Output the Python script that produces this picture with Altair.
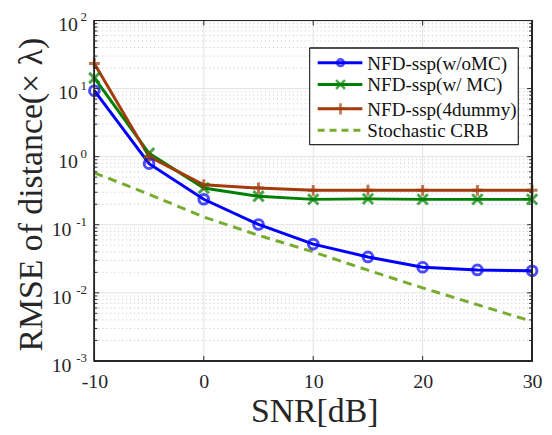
import altair as alt
import pandas as pd

snr = [-10, -5, 0, 5, 10, 15, 20, 25, 30]
names = ["NFD-ssp(w/oMC)", "NFD-ssp(w/ MC)", "NFD-ssp(4dummy)", "Stochastic CRB"]
rmse_wo_mc = [9.3, 0.79, 0.237, 0.101, 0.052, 0.0337, 0.0238, 0.0217, 0.0211]
rmse_w_mc = [14.3, 1.12, 0.346, 0.262, 0.236, 0.240, 0.236, 0.236, 0.236]
rmse_4dummy = [23.3, 1.0, 0.387, 0.346, 0.32, 0.322, 0.32, 0.32, 0.32]
crb = [0.58, 0.28, 0.13, 0.070, 0.040, 0.0215, 0.0118, 0.0067, 0.0038]
colors = ["#0000ff", "#008000", "#a33b0c", "#77ac30"]

decades = [1e-3, 1e-2, 1e-1, 1e0, 1e1, 1e2]
exponents = ["-3", "-2", "-1", "0", "1", "2"]
minor = [m * d for d in decades[:-1] for m in range(2, 10)]
x_major = [-10, 0, 10, 20, 30]

FONT = "Liberation Serif"
W, H = 441, 343
TXT = "#262626"

rows = []
for name, vals in zip(names, [rmse_wo_mc, rmse_w_mc, rmse_4dummy, crb]):
    for s, v in zip(snr, vals):
        rows.append({"series": name, "snr": s, "rmse": v})
df = pd.DataFrame(rows)
df_markers = df[df.series != names[3]]
df_solid = df[df.series != names[3]]
df_crb = df[df.series == names[3]]

xs = alt.Scale(domain=[-10, 30], nice=False, zero=False)
ys = alt.Scale(type="log", domain=[1e-3, 1e2], nice=False)

xaxis = alt.Axis(
    values=x_major, title="SNR[dB]", grid=False, ticks=False, tickSize=0,
    domain=False, labelFont=FONT, labelFontSize=20, labelColor=TXT,
    labelExpr="datum.value < 0 ? '-' + abs(datum.value) : '' + datum.value",
    labelPadding=11, titleFont=FONT, titleFontSize=34, titleFontWeight="normal",
    titleColor=TXT, titleX=W / 2 + 1, titleY=61, titleBaseline="alphabetic",
    titleAlign="center", labelFlush=False)
yaxis = alt.Axis(
    values=decades, labels=False, title="RMSE of distance(\u00d7 \u03bb)",
    grid=False, ticks=False, tickSize=0, domain=False,
    titleFont=FONT, titleFontSize=34, titleFontWeight="normal",
    titleColor=TXT, titleX=-53, titleY=175, titleAngle=-90,
    titleBaseline="alphabetic", titleAlign="center")


def X(f):
    return alt.X(f, scale=xs, axis=xaxis)


def Y(f):
    return alt.Y(f, scale=ys, axis=yaxis)


df_dec = pd.DataFrame({"v": decades, "e": exponents, "b": ["10"] * len(decades)})
df_dec_neg = df_dec[df_dec.v < 1]
df_dec_pos = df_dec[df_dec.v >= 1]
df_min = pd.DataFrame({"v": minor})
df_xm = pd.DataFrame({"x": x_major})

base = alt.Chart(df_crb).mark_point(opacity=0).encode(x=X("snr:Q"), y=Y("rmse:Q"))

grid_major_y = alt.Chart(df_dec).mark_rule(color="#e3e3e3", strokeWidth=1).encode(y=Y("v:Q"))
grid_minor_y = alt.Chart(df_min).mark_rule(color="#c8c8c8", strokeWidth=1, strokeDash=[1, 3]).encode(y=Y("v:Q"))
grid_major_x = alt.Chart(df_xm).mark_rule(color="#e3e3e3", strokeWidth=1).encode(x=X("x:Q"))

# y tick labels: "10" with superscript exponent
ylabels = [
    alt.Chart(df_dec_neg).mark_text(align="right", baseline="middle", font=FONT, fontSize=20,
                                    color=TXT, dy=5).encode(y=Y("v:Q"), x=alt.value(-23), text="b:N"),
    alt.Chart(df_dec_pos).mark_text(align="right", baseline="middle", font=FONT, fontSize=20,
                                    color=TXT, dy=5).encode(y=Y("v:Q"), x=alt.value(-16.5), text="b:N"),
    alt.Chart(df_dec).mark_text(align="right", baseline="middle", font=FONT, fontSize=13,
                                color=TXT, dy=-3).encode(y=Y("v:Q"), x=alt.value(-7.5), text="e:N"),
]

tick_col = "#262626"
ticks_layers = [
    alt.Chart(df_dec).mark_rule(color=tick_col).encode(y=Y("v:Q"), x=alt.value(0), x2=alt.value(5)),
    alt.Chart(df_dec).mark_rule(color=tick_col).encode(y=Y("v:Q"), x=alt.value(W - 5), x2=alt.value(W)),
    alt.Chart(df_min).mark_rule(color=tick_col).encode(y=Y("v:Q"), x=alt.value(0), x2=alt.value(3)),
    alt.Chart(df_min).mark_rule(color=tick_col).encode(y=Y("v:Q"), x=alt.value(W - 3), x2=alt.value(W)),
    alt.Chart(df_xm).mark_rule(color=tick_col).encode(x=X("x:Q"), y=alt.value(H - 5), y2=alt.value(H)),
    alt.Chart(df_xm).mark_rule(color=tick_col).encode(x=X("x:Q"), y=alt.value(0), y2=alt.value(5)),
]
box = alt.Chart(df_dec).mark_rect(fillOpacity=0, stroke="#262626", strokeWidth=1.2).encode(
    x=alt.value(0), x2=alt.value(W), y=alt.value(0), y2=alt.value(H))

color_scale = alt.Scale(domain=names, range=colors)
xpath = "M-1,-1L1,1M-1,1L1,-1"
ppath = "M-1,0L1,0M0,-1L0,1"
shape_scale = alt.Scale(domain=names[:3], range=["circle", xpath, ppath])

lines = alt.Chart(df_solid).mark_line(strokeWidth=3).encode(
    x=X("snr:Q"), y=Y("rmse:Q"),
    color=alt.Color("series:N", scale=color_scale, legend=None),
    detail="series:N",
)
crb_line = alt.Chart(df_crb).mark_line(strokeWidth=3, strokeDash=[9, 6]).encode(
    x=X("snr:Q"), y=Y("rmse:Q"),
    color=alt.Color("series:N", scale=color_scale, legend=None),
)
markers = alt.Chart(df_markers).mark_point(filled=False, strokeWidth=3).encode(
    x=X("snr:Q"), y=Y("rmse:Q"),
    color=alt.Color("series:N", scale=color_scale, legend=None),
    shape=alt.Shape("series:N", scale=shape_scale, legend=None),
    size=alt.Size("series:N", scale=alt.Scale(domain=names[:3], range=[95, 120, 160]), legend=None),
)

# manual legend (layout in pixels)
lx0, ly0, lx1, ly1 = 217, 28, 427, 125
row_y = [42.5, 64.5, 89, 110.5]
leg = [alt.Chart(df_dec).mark_rect(fill="white", stroke="#262626", strokeWidth=1).encode(
    x=alt.value(lx0), x2=alt.value(lx1), y=alt.value(ly0), y2=alt.value(ly1))]
shapes = ["circle", xpath, ppath]
sizes = [45, 80, 130]
for i, name in enumerate(names):
    one = pd.DataFrame({"series": [name]})
    dash = [7, 5] if i == 3 else [1, 0]
    leg.append(alt.Chart(one).mark_rule(strokeWidth=3, strokeDash=dash, color=colors[i]).encode(
        x=alt.value(225), x2=alt.value(270), y=alt.value(row_y[i])))
    if i < 3:
        leg.append(alt.Chart(one).mark_point(filled=False, strokeWidth=2.6, color=colors[i],
                                             shape=shapes[i], size=sizes[i]).encode(
            x=alt.value(248), y=alt.value(row_y[i])))
    leg.append(alt.Chart(one).mark_text(align="left", baseline="middle", font=FONT, fontSize=19.2,
                                        color="#111111").encode(
        x=alt.value(275), y=alt.value(row_y[i] + 1), text="series:N"))

chart = alt.layer(
    base, grid_major_y, grid_minor_y, grid_major_x, lines, crb_line, markers,
    *ticks_layers, box, *ylabels, *leg
).properties(
    width=W, height=H,
    autosize=alt.AutoSizeParams(type="none"),
    padding={"left": 87, "top": 11, "right": 12, "bottom": 68},
).configure_view(stroke="#262626", strokeWidth=1).configure(background="white")

chart.save("out.html", embed_options={"renderer": "svg", "actions": False})
